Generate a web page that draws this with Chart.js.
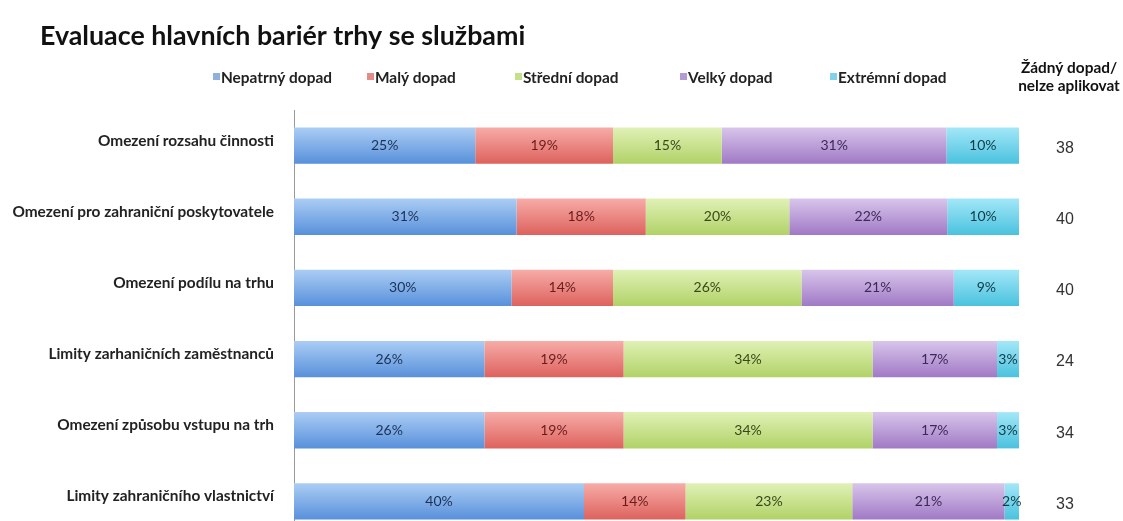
<!DOCTYPE html>
<html>
<head>
<meta charset="utf-8">
<script src="https://cdn.jsdelivr.net/npm/chart.js@4.4.1/dist/chart.umd.min.js"></script>
<style>
  html, body { margin: 0; padding: 0; background: #fff; overflow: hidden; }
  #c { display: block; }
</style>
</head>
<body>
<canvas id="c" width="1123" height="540" style="width:1123px;height:540px"></canvas>
<script>
const categories = [
  'Omezení rozsahu činnosti',
  'Omezení pro zahraniční poskytovatele',
  'Omezení podílu na trhu',
  'Limity zarhaničních zaměstnanců',
  'Omezení způsobu vstupu na trh',
  'Limity zahraničního vlastnictví'
];
const seriesNames = ['Nepatrný dopad', 'Malý dopad', 'Střední dopad', 'Velký dopad', 'Extrémní dopad'];
const nepatrny = [25, 31, 30, 26, 26, 40];
const maly     = [19, 18, 14, 19, 19, 14];
const stredni  = [15, 20, 26, 34, 34, 23];
const velky    = [31, 22, 21, 17, 17, 21];
const extremni = [10, 10,  9,  3,  3,  2];
const zadnyDopad = [38, 40, 40, 24, 34, 33];

const titleText = 'Evaluace hlavních bariér trhy se službami';
const sideHeader = ['Žádný dopad/', 'nelze aplikovat'];

const rawSeries = [nepatrny, maly, stredni, velky, extremni];
const gradStops = [
  ['#abcdf4', '#5890db'],
  ['#f7aca8', '#dd625d'],
  ['#e0f1b6', '#b1d267'],
  ['#d8c5eb', '#a079c5'],
  ['#a3e7f8', '#4ac2de']
];
const legendSwatch = ['#8fb0dc', '#e58a86', '#c4e08a', '#b69ad6', '#7fd3ea'];
const labelColors = ['#1b3258', '#6a1c1c', '#39481a', '#3c2a58', '#0f3b47'];
const legendX = [213, 367, 515, 680, 830];

const rowSums = categories.map((_, i) => rawSeries.reduce((s, a) => s + a[i], 0));
const BAR_PCT = 0.51;

function gradientFor(si) {
  return (c) => {
    const ch = c.chart;
    const ys = ch.scales && ch.scales.y;
    if (!ys || c.dataIndex === undefined || !ch.chartArea) return gradStops[si][1];
    const yc = ys.getPixelForValue(c.dataIndex);
    const half = (ys.height / categories.length) * BAR_PCT / 2;
    const g = ch.ctx.createLinearGradient(0, yc - half, 0, yc + half);
    g.addColorStop(0, gradStops[si][0]);
    g.addColorStop(1, gradStops[si][1]);
    return g;
  };
}

const datasets = rawSeries.map((arr, si) => ({
  label: seriesNames[si],
  data: arr.map((v, i) => v / rowSums[i] * 100),
  raw: arr,
  backgroundColor: gradientFor(si),
  borderWidth: 0,
  barPercentage: BAR_PCT,
  categoryPercentage: 1
}));

const FONT = 'Lato, "Open Sans", sans-serif';

const decor = {
  id: 'decor',
  afterDatasetsDraw(chart) {
    const ctx = chart.ctx;
    ctx.save();
    ctx.textAlign = 'center';
    ctx.textBaseline = 'middle';
    ctx.font = '14px ' + FONT;
    chart.data.datasets.forEach((ds, si) => {
      const meta = chart.getDatasetMeta(si);
      meta.data.forEach((el, i) => {
        const cx = (el.x + el.base) / 2;
        ctx.fillStyle = labelColors[si];
        ctx.fillText(ds.raw[i] + '%', cx, el.y);
      });
    });
    const ys = chart.scales.y;
    ctx.font = '16px "Liberation Sans", Arial, sans-serif';
    ctx.fillStyle = '#333';
    zadnyDopad.forEach((v, i) => {
      ctx.fillText(String(v), 1065, ys.getPixelForValue(i) + 3);
    });
    ctx.restore();
  },
  afterDraw(chart) {
    const ctx = chart.ctx;
    ctx.save();
    ctx.fillStyle = '#111';
    ctx.font = 'bold 26.8px ' + FONT;
    ctx.textAlign = 'left';
    ctx.textBaseline = 'middle';
    ctx.fillText(titleText, 40, 36);
    ctx.font = 'bold 15.4px ' + FONT;
    seriesNames.forEach((n, i) => {
      ctx.fillStyle = legendSwatch[i];
      ctx.fillRect(legendX[i], 73, 7, 7);
      ctx.fillStyle = '#222';
      ctx.fillText(n, legendX[i] + 8, 78);
    });
    ctx.textAlign = 'center';
    ctx.fillStyle = '#111';
    ctx.fillText(sideHeader[0], 1069, 68);
    ctx.fillText(sideHeader[1], 1069, 86);
    ctx.restore();
  }
};

new Chart(document.getElementById('c'), {
  type: 'bar',
  data: { labels: categories, datasets },
  options: {
    indexAxis: 'y',
    responsive: false,
    maintainAspectRatio: false,
    animation: false,
    layout: { padding: { left: 0, right: 104, top: 110, bottom: 3 } },
    plugins: { legend: { display: false }, title: { display: false }, tooltip: { enabled: false } },
    scales: {
      x: { stacked: true, min: 0, max: 100, display: false },
      y: {
        stacked: true,
        afterFit(s) { s.width = 294; s.paddingTop = 0; s.paddingBottom = 0; },
        grid: { display: false, drawTicks: false },
        border: { display: true, color: '#9a9a9a', width: 1 },
        ticks: {
          color: '#222',
          font: { family: FONT, size: 15.4, weight: 'bold' },
          padding: 20,
          labelOffset: -5
        }
      }
    }
  },
  plugins: [decor]
});
</script>
</body>
</html>
